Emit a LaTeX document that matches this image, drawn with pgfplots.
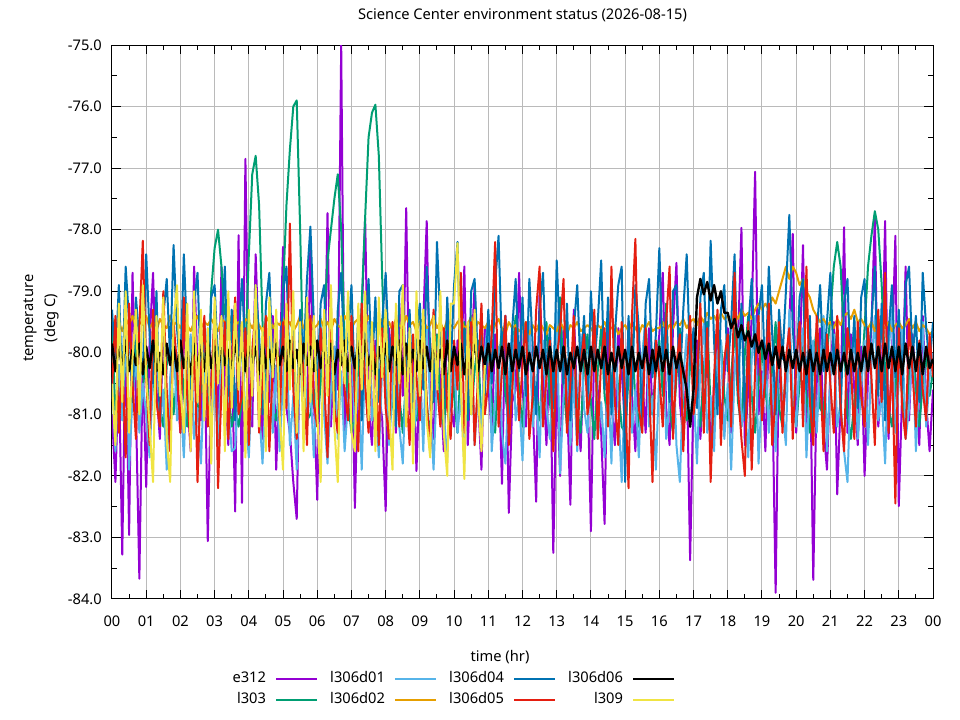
\documentclass[border=0pt]{standalone}
\usepackage{fontspec}
\setmainfont{Noto Sans}
\usepackage{pgfplots}
\usepackage{pgfplotstable}
\pgfplotsset{compat=1.18}
\definecolor{cP}{HTML}{9400D3}
\definecolor{cG}{HTML}{009E73}
\definecolor{cL}{HTML}{56B4E9}
\definecolor{cO}{HTML}{E69F00}
\definecolor{cB}{HTML}{0072B2}
\definecolor{cR}{HTML}{E51E10}
\definecolor{cK}{HTML}{000000}
\definecolor{cY}{HTML}{F0E442}
\newcommand{\fs}{\fontsize{11}{13.2}\selectfont}
\pgfplotstableread{
h e312 l303 d01 d02 d04 d05 d06 l309
0.0 -81.0 -79.5 -80.4 -79.45 -79.3 -80.6 -79.85 -80.5
0.1 -82.1 -81.0 -81.6 -79.6 -80.2 -79.4 -80.3 -81.5
0.2 -80.2 -80.3 -80.2 -79.5 -78.9 -81.3 -79.9 -79.2
0.3 -83.28 -80.9 -81.1 -79.65 -80.6 -80.1 -80.25 -80.8
0.4 -79.6 -79.9 -79.6 -79.45 -78.6 -81.7 -79.8 -79.0
0.5 -82.96 -81.2 -81.9 -79.55 -79.5 -79.2 -80.3 -81.3
0.6 -78.7 -80.4 -80.7 -79.4 -80.8 -80.5 -79.95 -80.1
0.7 -80.9 -79.8 -80.1 -79.6 -79.1 -81.4 -80.2 -79.3
0.8 -83.67 -81.1 -81.3 -79.5 -79.8 -79.6 -79.85 -81.0
0.9 -80.1 -80.6 -80.5 -79.55 -80.4 -78.18 -80.35 -78.9
1.0 -82.18 -80.0 -81.0 -79.4 -78.4 -80.4 -79.9 -80.4
1.1 -79.8 -81.3 -81.7 -79.6 -79.7 -81.5 -80.25 -81.2
1.2 -78.7 -80.5 -80.3 -79.5 -80.5 -79.3 -79.8 -82.1
1.3 -80.6 -79.7 -79.5 -79.65 -79.0 -80.8 -80.3 -79.4
1.4 -81.4 -80.9 -81.2 -79.45 -81.2 -81.2 -80.0 -80.7
1.5 -79.5 -81.2 -80.6 -79.55 -79.4 -79.0 -80.35 -79.1
1.6 -80.8 -80.2 -81.9 -79.6 -78.8 -80.6 -79.85 -81.4
1.7 -81.2 -79.9 -80.4 -79.4 -80.1 -81.6 -80.2 -82.1
1.8 -79.9 -81.0 -79.8 -79.55 -78.25 -79.5 -79.9 -79.5
1.9 -80.5 -80.4 -81.1 -79.5 -79.6 -80.2 -80.3 -78.9
2.0 -81.3 -79.8 -80.7 -79.6 -80.3 -81.3 -79.8 -80.6
2.1 -79.4 -80.7 -81.7 -79.45 -78.4 -79.1 -80.25 -81.3
2.2 -80.7 -81.2 -80.2 -79.55 -79.8 -80.7 -79.95 -79.2
2.3 -81.6 -80.3 -79.7 -79.65 -80.9 -81.5 -80.35 -81.6
2.4 -78.6 -79.9 -81.4 -79.5 -79.2 -79.6 -79.85 -79.0
2.5 -80.2 -81.1 -80.9 -79.4 -78.7 -82.1 -80.2 -80.8
2.6 -81.1 -80.6 -81.8 -79.6 -80.4 -80.3 -79.9 -79.3
2.7 -79.7 -80.0 -80.3 -79.5 -79.5 -79.4 -80.3 -81.1
2.8 -83.06 -80.8 -79.6 -79.55 -81.0 -81.2 -79.8 -79.6
2.9 -80.4 -79.0 -81.2 -79.45 -79.1 -80.5 -80.25 -81.8
3.0 -79.6 -78.3 -80.5 -79.55 -78.9 -79.3 -79.9 -79.1
3.1 -81.3 -78.0 -81.5 -79.65 -80.2 -82.2 -80.35 -80.5
3.2 -78.6 -78.6 -80.1 -79.45 -79.6 -80.6 -79.85 -79.4
3.3 -80.5 -79.5 -79.4 -79.5 -78.6 -79.5 -80.2 -81.6
3.4 -81.5 -80.6 -80.8 -79.6 -80.7 -81.4 -79.95 -79.0
3.5 -79.9 -81.2 -81.6 -79.4 -79.3 -80.2 -80.3 -80.9
3.6 -82.58 -80.9 -81.55 -79.55 -81.1 -79.1 -79.8 -79.2
3.7 -78.09 -81.2 -80.4 -79.5 -79.8 -81.0 -80.25 -80.6
3.8 -82.44 -80.8 -79.9 -79.65 -78.8 -80.7 -79.9 -79.5
3.9 -76.85 -80.0 -81.0 -79.45 -80.0 -79.6 -80.3 -81.7
4.0 -80.6 -78.4 -81.7 -79.5 -79.4 -81.5 -79.85 -79.3
4.1 -81.2 -77.1 -80.3 -79.6 -80.6 -80.0 -80.2 -80.7
4.2 -78.4 -76.8 -79.5 -79.45 -78.9 -79.2 -79.9 -78.9
4.3 -80.1 -77.6 -80.9 -79.55 -79.7 -81.3 -80.35 -81.2
4.4 -81.4 -79.5 -81.8 -79.65 -81.0 -80.4 -79.8 -79.6
4.5 -79.7 -80.8 -80.6 -79.5 -79.2 -79.4 -80.25 -81.6
4.6 -80.8 -81.2 -79.7 -79.4 -78.7 -81.6 -79.95 -79.1
4.7 -79.4 -80.9 -81.3 -79.6 -80.3 -80.2 -80.3 -80.4
4.8 -81.9 -81.1 -80.2 -79.5 -79.5 -79.7 -79.85 -79.3
4.9 -80.3 -80.5 -81.6 -79.55 -80.8 -81.1 -80.2 -81.0
5.0 -78.28 -79.0 -80.4 -79.45 -79.0 -79.5 -79.9 -81.9
5.1 -80.9 -77.6 -79.8 -79.6 -78.6 -80.9 -80.3 -79.2
5.2 -81.3 -76.7 -81.5 -79.5 -80.4 -77.9 -79.8 -80.6
5.3 -82.1 -76.0 -80.7 -79.65 -79.6 -80.6 -80.25 -79.0
5.4 -82.7 -75.9 -81.9 -79.55 -81.2 -81.4 -79.95 -81.3
5.5 -79.6 -78.0 -80.1 -79.4 -79.3 -79.7 -80.35 -79.5
5.6 -80.4 -80.5 -79.6 -79.6 -80.1 -80.3 -79.85 -81.6
5.7 -81.0 -81.1 -81.2 -79.5 -78.8 -81.5 -80.2 -79.1
5.8 -78.25 -81.0 -80.5 -79.45 -77.95 -79.4 -79.9 -80.8
5.9 -80.7 -80.6 -81.7 -79.6 -79.5 -80.8 -80.3 -79.4
6.0 -82.39 -81.2 -80.2 -79.55 -80.7 -81.2 -79.8 -81.0
6.1 -79.5 -80.5 -79.4 -79.45 -79.2 -79.6 -80.25 -82.1
6.2 -80.8 -79.5 -81.0 -79.6 -78.9 -80.4 -79.9 -79.3
6.3 -77.73 -78.5 -81.8 -79.5 -80.5 -81.7 -80.3 -80.7
6.4 -81.2 -78.0 -80.6 -79.65 -79.6 -79.3 -79.85 -78.9
6.5 -79.9 -77.5 -79.9 -79.45 -81.0 -80.9 -80.35 -81.2
6.6 -80.6 -77.1 -81.4 -79.55 -79.3 -81.3 -79.95 -82.1
6.7 -75.0 -78.0 -80.3 -79.6 -78.7 -79.5 -80.2 -79.4
6.8 -81.4 -79.8 -81.6 -79.4 -80.2 -80.6 -79.8 -80.5
6.9 -80.2 -80.8 -80.8 -79.5 -79.8 -81.1 -80.3 -79.0
7.0 -79.7 -81.3 -79.7 -79.6 -78.9 -79.4 -79.9 -81.3
7.1 -82.52 -81.0 -81.3 -79.5 -80.6 -80.7 -80.25 -81.6
7.2 -80.3 -80.5 -80.4 -79.45 -79.4 -81.6 -79.85 -79.2
7.3 -79.4 -79.2 -81.9 -79.65 -81.1 -79.2 -80.3 -80.6
7.4 -77.81 -77.8 -80.0 -79.55 -79.7 -80.5 -79.8 -79.0
7.5 -80.9 -76.5 -79.5 -79.4 -78.8 -81.3 -80.2 -81.1
7.6 -81.5 -76.1 -81.1 -79.6 -80.3 -79.7 -79.95 -79.5
7.7 -79.8 -75.97 -80.7 -79.5 -79.1 -80.1 -80.35 -81.6
7.8 -80.6 -76.8 -81.7 -79.55 -80.8 -81.5 -79.9 -79.1
7.9 -81.1 -78.8 -80.2 -79.45 -79.5 -79.6 -80.25 -80.4
8.0 -82.57 -80.5 -79.8 -79.6 -78.7 -80.9 -79.85 -79.3
8.1 -79.6 -81.2 -81.5 -79.5 -80.1 -81.4 -80.3 -80.9
8.2 -80.4 -80.8 -80.6 -79.65 -79.6 -79.5 -79.9 -81.9
8.3 -81.3 -80.1 -79.4 -79.45 -81.2 -80.3 -80.2 -79.2
8.4 -79.2 -80.7 -81.2 -79.55 -79.0 -81.2 -79.8 -80.5
8.5 -80.7 -81.3 -81.8 -79.6 -78.9 -79.1 -80.35 -78.9
8.6 -77.65 -80.4 -80.3 -79.4 -80.5 -80.6 -79.85 -81.2
8.7 -81.0 -79.8 -79.7 -79.55 -79.3 -81.5 -80.25 -79.6
8.8 -79.9 -80.9 -81.4 -79.5 -80.9 -79.7 -79.95 -81.8
8.9 -81.92 -81.1 -80.9 -79.65 -79.7 -80.4 -80.3 -79.0
9.0 -80.3 -80.3 -80.1 -79.5 -79.2 -81.1 -79.8 -80.7
9.1 -79.5 -79.6 -81.6 -79.45 -80.6 -79.4 -80.25 -79.3
9.2 -77.86 -80.8 -79.6 -79.6 -78.6 -80.8 -79.9 -81.1
9.3 -80.8 -81.4 -80.8 -79.55 -79.9 -81.6 -80.3 -81.7
9.4 -81.4 -80.2 -81.9 -79.4 -80.8 -79.3 -79.85 -79.4
9.5 -79.7 -79.7 -80.4 -79.6 -78.2 -80.5 -80.2 -80.6
9.6 -80.5 -80.9 -79.3 -79.5 -79.5 -81.2 -79.95 -79.0
9.7 -81.6 -81.2 -81.0 -79.65 -81.0 -79.6 -80.35 -81.3
9.8 -79.3 -80.5 -81.7 -79.45 -79.1 -80.9 -79.8 -82.0
9.9 -80.9 -79.9 -80.5 -79.55 -80.3 -81.4 -80.3 -79.2
10.0 -81.2 -80.7 -79.9 -79.6 -78.9 -79.8 -79.9 -79.2
10.1 -79.8 -81.3 -81.3 -79.5 -78.2 -80.6 -80.2 -78.22
10.2 -80.4 -80.1 -80.7 -79.45 -80.4 -78.7 -79.85 -80.6
10.3 -78.6 -79.5 -81.8 -79.6 -79.6 -81.3 -80.35 -82.05
10.4 -81.5 -80.6 -80.2 -79.55 -81.1 -80.2 -79.95 -79.5
10.5 -80.1 -81.0 -79.5 -79.4 -79.0 -79.5 -80.25 -81.0
10.6 -78.9 -80.3 -81.5 -79.65 -78.8 -81.5 -79.8 -79.3
10.7 -80.7 -79.8 -80.6 -79.5 -80.2 -80.4 -80.3 -80.7
10.8 -81.9 -81.2 -81.2 -79.55 -79.7 -79.2 -79.9 -81.6
10.9 -79.6 -80.4 -80.0 -79.6 -80.7 -81.0 -80.2 -80.2
11.0 -80.5 -79.9 -79.4 -79.5 -79.3 -80.5 -79.85 nan
11.1 -81.3 -80.8 -81.6 -79.65 -80.5 -79.7 -80.3 nan
11.2 -79.7 -81.3 -80.8 -79.55 -78.9 -78.2 -79.95 nan
11.3 -80.2 -80.2 -79.9 -79.45 -78.1 -81.2 -80.25 nan
11.4 -82.13 -79.6 -81.3 -79.6 -80.0 -80.3 -79.9 nan
11.5 -79.4 -80.7 -81.8 -79.7 -79.4 -79.4 -80.35 nan
11.6 -82.6 -81.1 -80.4 -79.5 -81.2 -81.5 -79.85 nan
11.7 -80.8 -80.0 -79.6 -79.6 -79.6 -80.6 -80.3 nan
11.8 -80.6 -79.4 -81.1 -79.55 -78.8 -79.6 -79.95 nan
11.9 -78.7 -80.6 -80.7 -79.65 -80.3 -81.1 -80.25 nan
12.0 -80.6 -81.2 -81.75 -79.6 -79.1 -80.2 -79.9 nan
12.1 -81.2 -80.3 -80.3 -79.5 -80.7 -79.5 -80.35 nan
12.2 -79.5 -79.7 -79.5 -79.7 -78.8 -81.4 -80.0 nan
12.3 -80.9 -80.9 -81.2 -79.55 -79.9 -80.7 -80.3 nan
12.4 -82.42 -80.6 -80.6 -79.65 -81.0 -79.3 -79.9 nan
12.5 -78.96 -81.1 -81.7 -79.5 -79.3 -78.6 -80.25 nan
12.6 -80.3 -80.2 -79.8 -79.6 -78.7 -81.2 -79.95 nan
12.7 -81.5 -79.5 -80.9 -79.7 -80.4 -80.4 -80.35 nan
12.8 -79.8 -80.8 -81.4 -79.55 -79.6 -79.8 -79.9 nan
12.9 -83.25 -81.3 -80.2 -79.6 -80.9 -81.6 -80.3 nan
13.0 -80.4 -80.1 -79.3 -79.65 -78.5 -80.1 -79.95 nan
13.1 -82.0 -79.1 -81.96 -79.5 -79.8 -79.6 -80.3 nan
13.2 -79.6 -80.5 -80.7 -79.6 -80.5 -78.8 -79.9 nan
13.3 -80.7 -81.2 -80.1 -79.7 -79.2 -81.3 -80.35 nan
13.4 -82.47 -80.4 -81.5 -79.55 -81.1 -80.5 -80.0 nan
13.5 -79.3 -79.8 -80.4 -79.6 -79.6 -79.4 -80.25 nan
13.6 -80.9 -80.9 -81.6 -79.5 -78.9 -81.5 -79.9 nan
13.7 -81.6 -81.3 -79.7 -79.65 -80.3 -80.2 -80.3 nan
13.8 -79.9 -80.2 -80.9 -79.6 -79.4 -79.7 -79.95 nan
13.9 -80.5 -79.7 -81.3 -79.55 -80.8 -81.0 -80.35 nan
14.0 -82.9 -80.8 -80.2 -79.6 -79.0 -80.6 -79.9 nan
14.1 -79.7 -81.4 -79.5 -79.7 -80.2 -79.3 -80.3 nan
14.2 -80.6 -80.3 -81.4 -79.55 -79.5 -81.4 -79.95 nan
14.3 -81.3 -79.6 -80.8 -79.6 -78.5 -80.1 -80.25 nan
14.4 -82.78 -80.7 -81.7 -79.5 -80.6 -79.6 -79.9 nan
14.5 -79.4 -81.1 -80.3 -79.65 -79.1 -81.2 -80.35 nan
14.6 -80.8 -80.5 -81.8 -79.6 -81.0 -78.6 -80.0 nan
14.7 -81.5 -79.9 -79.6 -79.55 -79.7 -80.8 -80.3 nan
14.8 -79.6 -80.6 -80.9 -79.7 -78.9 -81.5 -79.9 nan
14.9 -80.3 -81.2 -82.1 -79.6 -78.6 -79.5 -80.25 nan
15.0 -81.2 -81.3 -80.5 -79.55 -82.1 -80.7 -79.95 nan
15.1 -79.5 -80.4 -79.8 -79.65 -79.4 -82.2 -80.35 nan
15.2 -80.7 -79.7 -81.3 -79.5 -80.7 -79.4 -79.9 nan
15.3 -81.6 -80.8 -80.6 -79.6 -78.9 -78.15 -80.3 nan
15.4 -79.8 -81.2 -81.7 -79.7 -79.6 -80.9 -80.0 nan
15.5 -80.4 -80.1 -80.1 -79.55 -81.2 -81.3 -80.25 nan
15.6 -81.3 -79.5 -79.4 -79.6 -79.2 -79.6 -79.9 nan
15.7 -79.6 -80.6 -81.2 -79.5 -78.8 -80.5 -80.35 nan
15.8 -81.0 -81.0 -80.7 -79.65 -80.4 -82.1 -79.95 nan
15.9 -80.2 -80.3 -81.9 -79.6 -79.7 -79.8 -80.3 nan
16.0 -79.7 -79.8 -80.3 -79.6 -78.3 -80.4 -79.9 nan
16.1 -78.7 -80.7 -79.6 -79.5 -80.1 -81.2 -80.3 nan
16.2 -80.9 -79.2 -81.4 -79.65 -79.4 -79.5 -79.95 nan
16.3 -81.5 -80.9 -80.8 -79.55 -80.8 -78.6 -80.35 nan
16.4 -79.6 -81.3 -79.9 -79.6 -79.0 -81.4 -79.9 nan
16.5 -78.54 -80.4 -81.5 -79.5 -78.9 -80.2 -80.25 nan
16.6 -80.8 -79.6 -82.1 -79.55 -80.5 -79.7 -80.0 nan
16.7 -81.4 -80.8 -80.4 -79.45 -79.3 -81.6 -80.3 nan
16.8 -80.2 -81.1 -79.7 -79.6 -78.4 -80.3 -80.6 nan
16.9 -83.37 -80.2 -81.2 -79.5 -80.2 -79.4 -81.2 nan
17.0 -80.6 -79.7 -80.6 -79.45 -79.6 -81.0 -80.6 nan
17.1 -79.8 -80.6 -81.8 -79.55 -80.9 -80.5 -79.1 nan
17.2 -81.4 -81.2 -80.2 -79.4 -79.1 -79.2 -78.8 nan
17.3 -80.3 -80.3 -79.5 -79.5 -78.7 -81.3 -79.05 nan
17.4 -79.5 -79.5 -81.3 -79.35 -80.4 -79.6 -78.85 nan
17.5 -81.7 -80.9 -80.7 -79.45 -78.18 -82.1 -79.15 nan
17.6 -80.5 -81.3 -81.6 -79.4 -79.8 -80.4 -78.9 nan
17.7 -79.7 -80.1 -80.0 -79.5 -81.0 -79.3 -79.2 nan
17.8 -81.2 -79.8 -79.8 -79.35 -79.3 -81.5 -79.0 nan
17.9 -80.4 -80.7 -81.4 -79.45 -78.9 -80.1 -79.35 nan
18.0 -79.6 -81.1 -80.5 -79.4 -80.3 -79.7 -79.35 nan
18.1 -81.3 -80.4 -81.9 -79.5 -79.5 -81.2 -79.6 nan
18.2 -80.2 -79.6 -80.3 -79.35 -78.4 -78.7 -79.45 nan
18.3 -79.8 -80.8 -79.6 -79.45 -80.7 -80.6 -79.75 nan
18.4 -77.97 -81.2 -81.2 -79.3 -79.2 -81.4 -79.55 nan
18.5 -81.5 -80.0 -80.8 -79.4 -81.1 -82.0 -79.8 nan
18.6 -80.6 -79.4 -81.7 -79.35 -79.6 -79.5 -79.65 nan
18.7 -79.4 -80.7 -80.1 -79.45 -78.8 -81.9 -79.9 nan
18.8 -77.06 -81.3 -79.4 -79.3 -80.2 -80.3 -79.7 nan
18.9 -81.0 -80.5 -81.8 -79.2 -79.4 -79.4 -80.0 nan
19.0 -80.3 -79.9 -80.6 -79.3 -78.9 -81.1 -79.8 nan
19.1 -81.6 -80.6 -79.9 -79.2 -80.5 -80.4 -80.1 nan
19.2 -79.7 -81.1 -81.3 -79.3 -78.6 -79.2 -79.85 nan
19.3 -80.5 -80.2 -80.4 -79.1 -79.7 -81.5 -80.2 nan
19.4 -83.9 -79.5 -81.6 -79.2 -81.0 -80.7 -79.9 nan
19.5 -79.8 -80.9 -79.7 -79.0 -79.3 -79.5 -80.25 nan
19.6 -81.2 -81.2 -80.9 -78.8 -80.1 -81.3 -79.9 nan
19.7 -80.4 -80.3 -81.5 -78.6 -79.0 -80.1 -80.3 nan
19.8 -79.5 -79.7 -79.3 -78.8 -77.76 -79.6 -79.95 nan
19.9 -78.07 -80.8 -80.7 -78.6 -79.6 -81.4 -80.25 nan
20.0 -81.3 -81.2 -81.2 -78.7 -80.4 -80.2 -79.95 nan
20.1 -80.2 -80.5 -80.1 -78.9 -79.1 -79.5 -80.3 nan
20.2 -78.25 -79.8 -79.6 -78.8 -78.8 -81.2 -80.0 nan
20.3 -81.4 -80.7 -81.7 -79.0 -80.6 -78.6 -80.35 nan
20.4 -79.9 -81.3 -80.5 -79.1 -79.4 -80.8 -79.95 nan
20.5 -83.69 -80.1 -79.8 -79.3 -81.2 -81.5 -80.3 nan
20.6 -80.5 -79.6 -81.3 -79.4 -79.7 -79.4 -80.0 nan
20.7 -79.6 -80.9 -80.2 -79.5 -78.9 -80.3 -80.35 nan
20.8 -81.2 -81.0 -79.4 -79.45 -80.3 -81.6 -79.95 nan
20.9 -81.9 -80.0 -81.6 -79.55 -79.5 -79.7 -80.3 nan
21.0 -80.3 -79.4 -80.4 -79.5 -78.7 -80.5 -80.0 nan
21.1 -79.5 -78.6 -79.7 -79.6 -80.2 -81.3 -80.35 nan
21.2 -82.3 -78.2 -81.2 -79.45 -79.6 -79.4 -79.95 nan
21.3 -80.8 -78.6 -80.8 -79.55 -81.0 -80.9 -80.3 nan
21.4 -77.96 -79.8 -81.6 -79.4 -79.2 -81.6 -80.0 nan
21.5 -81.3 -81.0 -82.1 -79.35 -78.8 -79.6 -80.35 nan
21.6 -79.7 -81.4 -80.3 -79.45 -80.5 -80.2 -79.95 nan
21.7 -80.6 -80.8 -79.5 -79.3 -79.4 -81.4 -80.3 nan
21.8 -81.5 -80.3 -81.4 -79.5 -80.9 -79.5 -80.0 nan
21.9 -79.9 -80.5 -80.6 -79.45 -79.1 -80.7 -80.3 nan
22.0 -82.0 -79.6 -79.8 -79.55 -78.8 -81.2 -79.9 nan
22.1 -80.4 -78.6 -81.5 -79.6 -80.3 -79.6 -80.3 nan
22.2 -79.6 -78.1 -80.2 -79.5 -79.5 -80.4 -79.85 nan
22.3 -77.78 -77.7 -79.4 -79.65 -78.6 -81.5 -80.25 nan
22.4 -81.2 -78.0 -81.1 -79.45 -80.7 -79.3 -79.9 nan
22.5 -80.5 -78.9 -80.7 -79.55 -79.2 -80.8 -80.3 nan
22.6 -77.86 -80.3 -81.8 -79.6 -81.1 -78.7 -79.85 nan
22.7 -81.4 -80.9 -80.0 -79.5 -79.7 -81.3 -80.25 nan
22.8 -80.1 -81.2 -79.3 -79.65 -78.9 -80.1 -79.9 nan
22.9 -78.1 -80.6 -81.3 -79.55 -80.4 -82.45 -80.3 nan
23.0 -82.49 -79.9 -80.5 -79.5 -79.3 -79.6 -79.9 nan
23.1 -80.6 -80.7 -79.6 -79.6 -80.6 -80.9 -80.35 nan
23.2 -78.6 -81.1 -81.4 -79.55 -78.9 -81.4 -79.85 nan
23.3 -81.1 -80.4 -80.9 -79.45 -78.6 -79.5 -80.25 nan
23.4 -79.7 -79.8 -79.8 -79.6 -80.1 -80.3 -79.9 nan
23.5 -80.5 -80.6 -81.6 -79.5 -79.4 -81.2 -80.3 nan
23.6 -81.5 -81.2 -80.3 -79.65 -80.8 -79.8 -79.85 nan
23.7 -79.4 -80.5 -79.5 -79.55 -78.7 -80.6 -80.35 nan
23.8 -80.8 -80.0 -81.2 -79.6 -79.6 -81.1 -79.9 nan
23.9 -81.6 -80.7 -80.4 -79.7 -80.2 -79.7 -80.25 nan
24.0 -80.6 -80.3 -80.0 -79.65 -79.5 -80.4 -80.1 nan
}\data
\begin{document}
\begin{tikzpicture}
\begin{axis}[
  at={(0,0)}, anchor=south west,
  scale only axis, width=615.75pt, height=415.5pt,
  xmin=0, xmax=24, ymin=-84, ymax=-75,
  xtick={0,1,...,24},
  xticklabels={00,01,02,03,04,05,06,07,08,09,10,11,12,13,14,15,16,17,18,19,20,21,22,23,00},
  ytick={-84,-83,...,-75},
  minor x tick num=1, minor y tick num=1,
  tick align=inside,
  major tick length=6.75pt, minor tick length=3.4pt,
  tick style={black, line width=0.75pt},
  axis line style={line width=0.75pt},
  grid=major,
  major grid style={draw=black!27, line width=0.75pt},
  tick label style={font=\fs},
  xticklabel style={anchor=base, yshift=-21pt, inner sep=0pt},
  yticklabel style={anchor=east, xshift=-7.5pt, inner sep=0pt,
    /pgf/number format/fixed, /pgf/number format/fixed zerofill,
    /pgf/number format/precision=1, /pgf/number format/assume math mode=true},
  title={Science Center environment status (2026-08-15)},
  every axis title/.style={at={(0.5,1)}, anchor=base, yshift=19.3pt, font=\fs},
  xlabel={time (hr)},
  every axis x label/.style={at={(0.4726,0)}, anchor=base, yshift=-47.25pt, font=\fs},
  ylabel={temperature\\(deg C)},
  every axis y label/.style={at={([xshift=-53.25pt]axis description cs:0,0.507)}, rotate=90, anchor=center, align=center, font=\fontsize{11}{16.5}\selectfont},
  no markers,
  every axis plot/.append style={line width=1.5pt, line join=round},
  legend columns=4,
  legend plot pos=right,
  legend cell align=right,
  legend image code/.code={\draw[#1, line width=1.5pt] (0pt,0pt) -- (30.75pt,0pt);},
  legend style={at={(0,0)}, anchor=north west, xshift=74.25pt, yshift=-55pt,
    draw=none, fill=none, inner sep=0pt, outer sep=0pt, font=\fs,
    row sep=5.25pt,
    nodes={inner sep=0pt, text width=41.25pt, align=right, text height=8pt, text depth=2.5pt},
    /tikz/every odd column/.style={column sep=6.75pt},
    /tikz/every even column/.style={column sep=9pt}},
]
\addplot[cP, forget plot] table[x=h, y=e312] {\data};
\addplot[cG, forget plot] table[x=h, y=l303] {\data};
\addplot[cL, forget plot] table[x=h, y=d01] {\data};
\addplot[cO, forget plot] table[x=h, y=d02] {\data};
\addplot[cB, forget plot] table[x=h, y=d04] {\data};
\addplot[cR, forget plot] table[x=h, y=d05] {\data};
\addplot[cK, forget plot, line width=1.8pt] table[x=h, y=d06] {\data};
\addplot[cY, forget plot] table[x=h, y=l309] {\data};
\addlegendimage{cP}\addlegendentry{e312}
\addlegendimage{cL}\addlegendentry{l306d01}
\addlegendimage{cB}\addlegendentry{l306d04}
\addlegendimage{cK}\addlegendentry{l306d06}
\addlegendimage{cG}\addlegendentry{l303}
\addlegendimage{cO}\addlegendentry{l306d02}
\addlegendimage{cR}\addlegendentry{l306d05}
\addlegendimage{cY}\addlegendentry{l309}
\end{axis}
\pgfresetboundingbox
\path (-84pt,-90.75pt) rectangle (636pt,449.25pt);
\end{tikzpicture}
\end{document}
